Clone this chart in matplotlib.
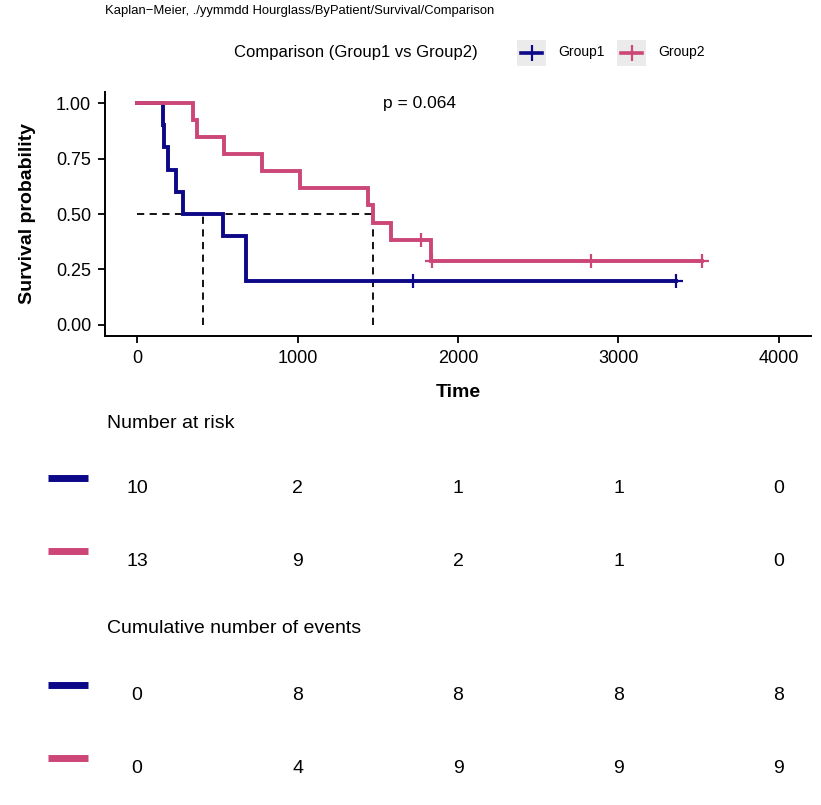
import numpy as np
import matplotlib
matplotlib.use('Agg')
from matplotlib import pyplot as plt
from matplotlib import transforms
from matplotlib.lines import Line2D
from matplotlib.patches import Rectangle

plt.rcParams['font.family'] = ['Liberation Sans', 'DejaVu Sans']

# survival data (time, 1 = event / 0 = censored)
group_names = ['Group1', 'Group2']
g1_time = [164, 170, 195, 243, 285, 538, 677, 677, 1720, 3358]
g1_event = [1, 1, 1, 1, 1, 1, 1, 1, 0, 0]
g2_time = [347, 372, 542, 777, 1016, 1441, 1468, 1581, 1769, 1830, 1835, 2829, 3518]
g2_event = [1, 1, 1, 1, 1, 1, 1, 1, 0, 1, 0, 0, 0]
colors = ['#0D0887', '#CC4678']
table_times = [0, 1000, 2000, 3000, 4000]
p_label = 'p = 0.064'
title = 'Kaplan\u2212Meier, ./yymmdd Hourglass/ByPatient/Survival/Comparison'
legend_title = 'Comparison (Group1 vs Group2)'

W, H = 821, 805


def fx(x):
    return x / W


def fy(y):
    return 1 - y / H


def km(times, events):
    """kaplan-meier steps, censor points and median"""
    t = np.asarray(times, float)
    e = np.asarray(events, int)
    xs, ys = [0.], [1.]
    s = 1.
    cens_x, cens_y = [], []
    for ut in np.unique(t):
        at_risk = np.sum(t >= ut)
        d = np.sum((t == ut) & (e == 1))
        if d > 0:
            s = s * (at_risk - d) / at_risk
            xs.append(ut)
            ys.append(s)
        if np.any((t == ut) & (e == 0)):
            cens_x.append(ut)
            cens_y.append(s)
    xs.append(t.max())
    ys.append(s)
    # median, midpoint rule when curve sits exactly on 0.5
    med = None
    ev = xs[1:-1]
    sv = ys[1:-1]
    for i, (tt, ss) in enumerate(zip(ev, sv)):
        if np.isclose(ss, 0.5):
            med = (tt + ev[i + 1]) / 2. if i + 1 < len(ev) else tt
            break
        if ss < 0.5:
            med = tt
            break
    return np.array(xs), np.array(ys), cens_x, cens_y, med


groups = [(g1_time, g1_event), (g2_time, g2_event)]

fig = plt.figure(figsize=(W / 100, H / 100), dpi=100)
ax = fig.add_axes([fx(105), fy(336), fx(811) - fx(105), fy(92) - fy(336)])

meds = []
for (tt, ee), c in zip(groups, colors):
    xs, ys, cx, cy, med = km(tt, ee)
    ax.step(xs, ys, where='post', color=c, lw=2.8, solid_joinstyle='miter')
    ax.plot(cx, cy, ls='none', marker='+', ms=10, mew=1.6, color=c)
    meds.append(med)

ax.plot([0, max(meds)], [0.5, 0.5], ls=(0, (4, 3)), color='black', lw=1.3, zorder=1)
for m in meds:
    ax.plot([m, m], [0, 0.5], ls=(0, (4, 3)), color='black', lw=1.3, zorder=1)

ax.text(1763, 1.0, p_label, ha='center', va='center', fontsize=12.5)

ax.set_xlim(-200, 4200)
ax.set_ylim(-0.05, 1.05)
ax.set_xticks(table_times)
ax.set_yticks([0, 0.25, 0.5, 0.75, 1.0])
ax.set_yticklabels(['0.00', '0.25', '0.50', '0.75', '1.00'])
for sp in ['top', 'right']:
    ax.spines[sp].set_visible(False)
for sp in ['left', 'bottom']:
    ax.spines[sp].set_linewidth(1.4)
ax.tick_params(labelsize=13, width=1.3, length=5, colors='black', pad=5)
ax.set_xlabel('Time', fontsize=14, fontweight='bold', labelpad=12)
ax.set_ylabel('Survival probability', fontsize=14, fontweight='bold', labelpad=14)

# title and legend
fig.text(fx(105), fy(11), title, fontsize=9.4, va='center', ha='left')
fig.text(fx(234), fy(52), legend_title, fontsize=12, va='center', ha='left')
key_x = [517, 617]
for kx, name, c in zip(key_x, group_names, colors):
    fig.add_artist(Rectangle((fx(kx), fy(66)), fx(29), fy(40) - fy(66),
                             transform=fig.transFigure, color='#EBEBEB', lw=0))
    fig.add_artist(Line2D([fx(kx + 4), fx(kx + 25)], [fy(53), fy(53)],
                          transform=fig.transFigure, color=c, lw=2.6))
    fig.add_artist(Line2D([fx(kx + 14.5)], [fy(53)], transform=fig.transFigure,
                          color=c, marker='+', ms=11, mew=1.6))
    fig.text(fx(kx + 41), fy(52), name, fontsize=10, va='center', ha='left')

# risk table
tr = transforms.blended_transform_factory(ax.transData, fig.transFigure)
fig.text(fx(107), fy(423), 'Number at risk', fontsize=14, va='center', ha='left')
fig.text(fx(107), fy(628), 'Cumulative number of events', fontsize=14, va='center', ha='left')

risk_rows = [488, 561]
event_rows = [695, 768]
for i, ((tt, ee), c) in enumerate(zip(groups, colors)):
    tt = np.asarray(tt)
    ee = np.asarray(ee)
    n_risk = [int(np.sum(tt >= t)) for t in table_times]
    n_ev = [int(np.sum((tt <= t) & (ee == 1))) for t in table_times]
    for row, vals in [(risk_rows[i], n_risk), (event_rows[i], n_ev)]:
        for t, v in zip(table_times, vals):
            fig.text(t, fy(row), str(v), transform=tr, fontsize=14,
                     ha='center', va='center')
        fig.add_artist(Line2D([fx(48), fx(88)], [fy(row - 10), fy(row - 10)],
                              transform=fig.transFigure, color=c, lw=5,
                              solid_capstyle='butt'))

fig.savefig('out.png', dpi=100)
